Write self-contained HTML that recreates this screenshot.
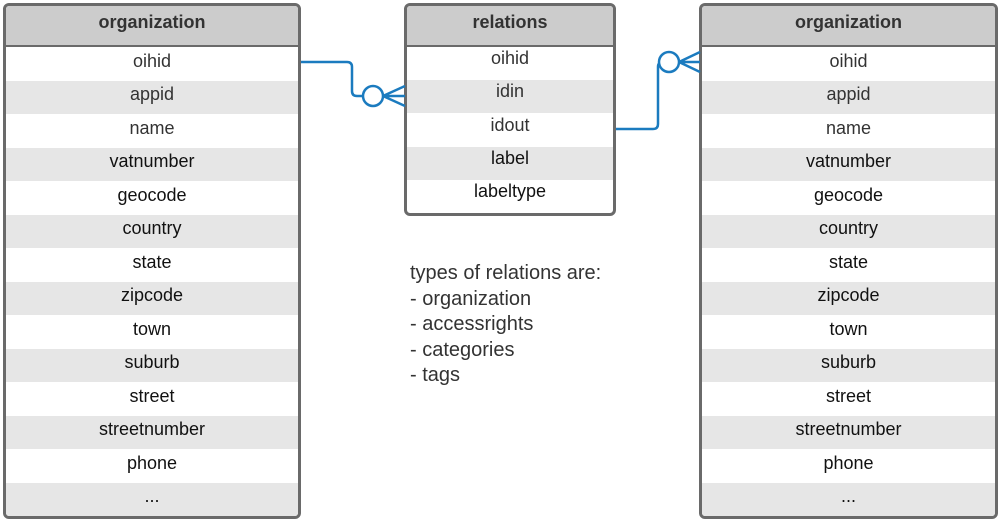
<!DOCTYPE html>
<html><head><meta charset="utf-8"><style>
body{margin:0;width:1000px;height:521px;background:#fff;position:relative;overflow:hidden;font-family:"Liberation Sans",sans-serif}
.t{position:absolute;box-sizing:border-box;border:3px solid #6a6a6a;border-radius:6px;overflow:hidden;background:#fff;display:flex;flex-direction:column}
.h{height:39px;background:#cccccc;border-bottom:2px solid #6a6a6a;font-weight:bold;font-size:18px;color:#333;text-align:center;line-height:32px;flex:none}
.r{flex:1;text-align:center;font-size:18px;color:#111;display:flex;align-items:center;justify-content:center;padding-bottom:5px;box-sizing:border-box}
.rel .r{padding-bottom:10px}
.g{background:#e6e6e6}
.l{color:#333}
.note{position:absolute;left:410px;top:261px;font-size:20px;line-height:25.5px;color:#333}
</style></head><body>
<div class="t" style="left:3px;top:3px;width:298px;height:516px">
<div class="h">organization</div>
<div class="r l">oihid</div><div class="r g l">appid</div><div class="r l">name</div><div class="r g">vatnumber</div><div class="r">geocode</div><div class="r g">country</div><div class="r">state</div><div class="r g">zipcode</div><div class="r">town</div><div class="r g">suburb</div><div class="r">street</div><div class="r g">streetnumber</div><div class="r">phone</div><div class="r g">...</div>
</div>
<div class="t rel" style="left:404px;top:3px;width:212px;height:213px">
<div class="h">relations</div>
<div class="r l">oihid</div><div class="r g l">idin</div><div class="r l">idout</div><div class="r g">label</div><div class="r">labeltype</div>
</div>
<div class="t" style="left:699px;top:3px;width:299px;height:516px">
<div class="h">organization</div>
<div class="r l">oihid</div><div class="r g l">appid</div><div class="r l">name</div><div class="r g">vatnumber</div><div class="r">geocode</div><div class="r g">country</div><div class="r">state</div><div class="r g">zipcode</div><div class="r">town</div><div class="r g">suburb</div><div class="r">street</div><div class="r g">streetnumber</div><div class="r">phone</div><div class="r g">...</div>
</div>
<svg style="position:absolute;left:0;top:0" width="1000" height="521">
<g fill="none" stroke="#1b7bbf" stroke-width="2.5">
<path d="M301 62 H347 Q352 62 352 67 V91 Q352 96 357 96 H362"/>
<circle cx="373" cy="96" r="10" fill="#fff"/>
<path d="M383 96 L405 86 M383 96 H405 M383 96 L405 106"/>
<path d="M616 129 H653 Q658 129 658 124 V67 Q658 62 663 62 H658"/>
<circle cx="669" cy="62" r="10" fill="#fff"/>
<path d="M679 62 L700 52 M679 62 H700 M679 62 L700 72"/>
</g>
</svg>
<div class="note">types of relations are:<br>- organization<br>- accessrights<br>- categories<br>- tags</div>
</body></html>
